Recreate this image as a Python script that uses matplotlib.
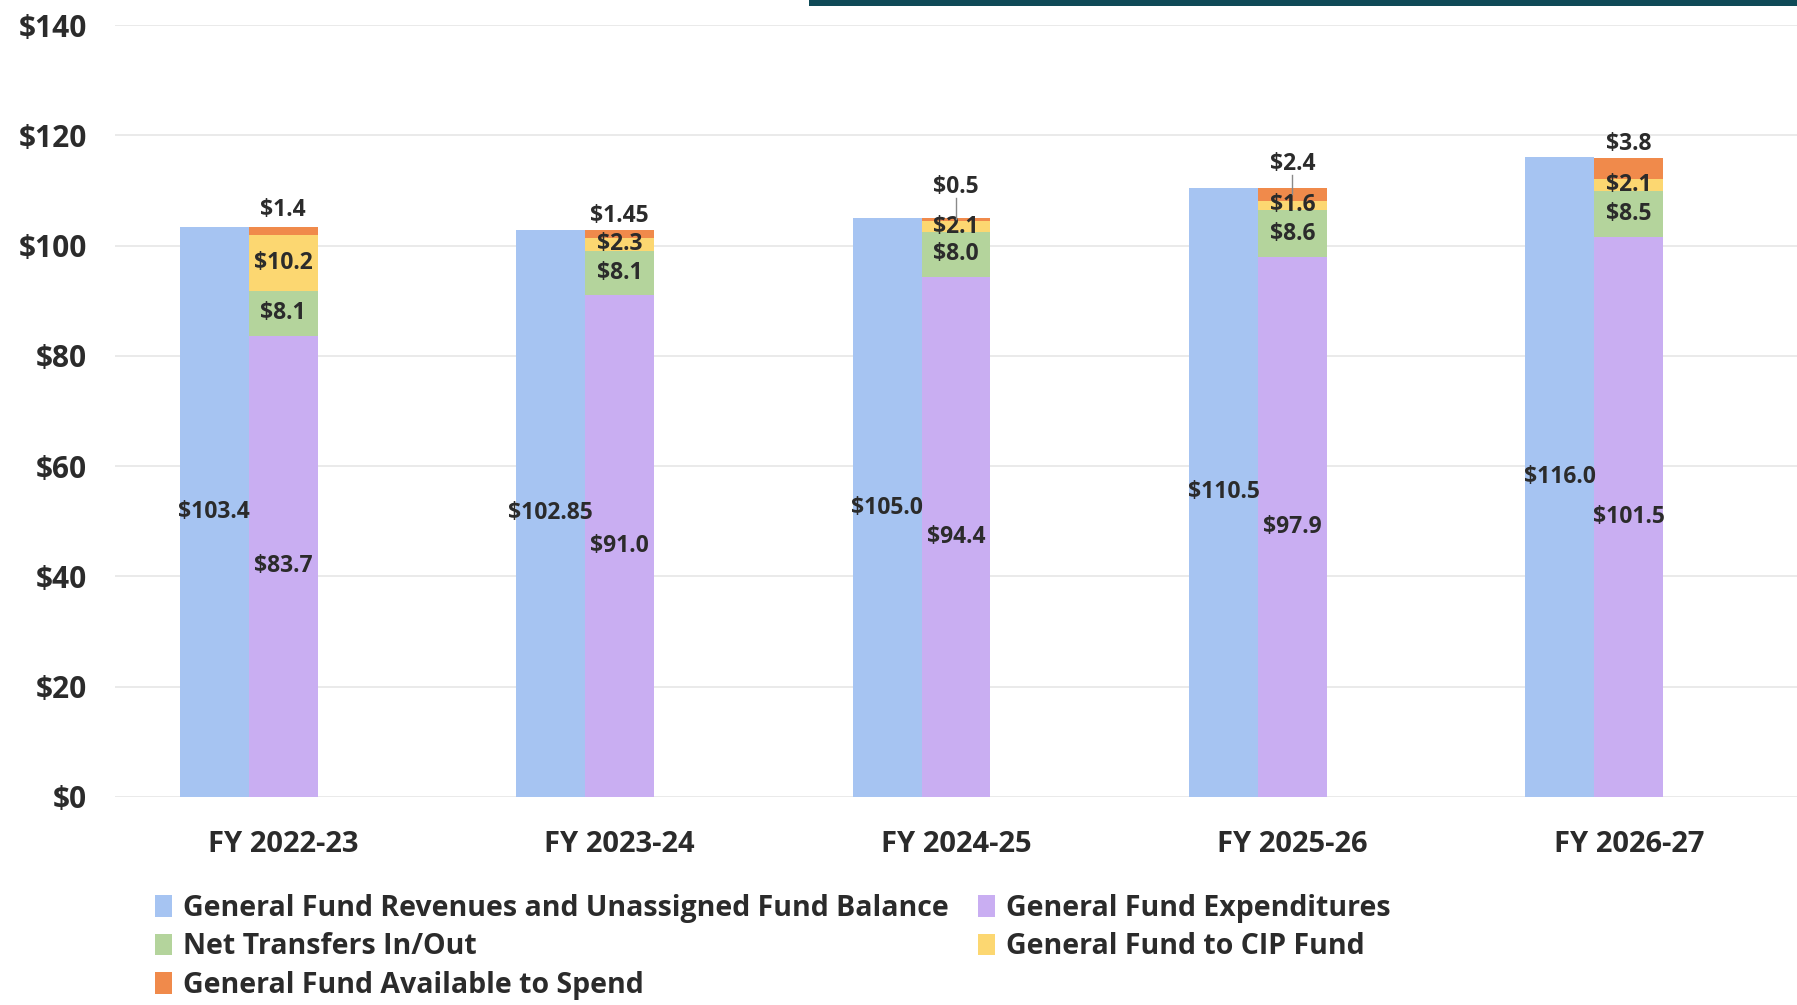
"""General Fund revenues vs. uses, FY 2022-23 to FY 2026-27 ($ millions)."""
import matplotlib
matplotlib.use('Agg')
import matplotlib.pyplot as plt
import numpy as np

years = ['FY 2022-23', 'FY 2023-24', 'FY 2024-25', 'FY 2025-26', 'FY 2026-27']
revenues = [103.4, 102.85, 105.0, 110.5, 116.0]
expenditures = [83.7, 91.0, 94.4, 97.9, 101.5]
net_transfers = [8.1, 8.1, 8.0, 8.6, 8.5]
to_cip = [10.2, 2.3, 2.1, 1.6, 2.1]
available = [1.4, 1.45, 0.5, 2.4, 3.8]

rev_labels = ['$103.4', '$102.85', '$105.0', '$110.5', '$116.0']
avail_labels = ['$1.4', '$1.45', '$0.5', '$2.4', '$3.8']

# styling
c_rev = '#a6c4f2'
c_exp = '#c9aef2'
c_net = '#b4d49c'
c_cip = '#fcd771'
c_avail = '#f08a4b'
txt = '#2b2b2b'
plt.rcParams['font.family'] = ['Open Sans', 'DejaVu Sans']
plt.rcParams['font.weight'] = 'bold'

fig = plt.figure(figsize=(17.97, 10.05), dpi=100)
ax = fig.add_axes([0.064, 0.207, 0.936, 0.768])

x = np.arange(len(years))
w = 0.205
xb = x - w
xp = x

b_rev = ax.bar(xb, revenues, w, color=c_rev, label='General Fund Revenues and Unassigned Fund Balance', zorder=2)
b_exp = ax.bar(xp, expenditures, w, color=c_exp, label='General Fund Expenditures', zorder=2)
bottom = np.array(expenditures)
b_net = ax.bar(xp, net_transfers, w, bottom=bottom, color=c_net, label='Net Transfers In/Out', zorder=2)
bottom = bottom + np.array(net_transfers)
b_cip = ax.bar(xp, to_cip, w, bottom=bottom, color=c_cip, label='General Fund to CIP Fund', zorder=2)
bottom = bottom + np.array(to_cip)
b_av = ax.bar(xp, available, w, bottom=bottom, color=c_avail, label='General Fund Available to Spend', zorder=2)
tops = bottom + np.array(available)

lab = dict(ha='center', va='center', fontsize=16.5, color=txt, fontweight='bold', zorder=3)
for i in range(len(years)):
    ax.text(xb[i], revenues[i] / 2, rev_labels[i], **lab)
    ax.text(xp[i], expenditures[i] / 2, f'${expenditures[i]:.1f}', **lab)
    ax.text(xp[i], expenditures[i] + net_transfers[i] / 2, f'${net_transfers[i]:.1f}', **lab)
    ax.text(xp[i], expenditures[i] + net_transfers[i] + to_cip[i] / 2, f'${to_cip[i]:.1f}', **lab)

# labels for the available-to-spend slice sit above the stack; two use leader lines
lift = [3.0, 2.5, 5.6, 4.4, 2.6]
leader = [False, False, True, True, False]
for i in range(len(years)):
    ly = tops[i] + lift[i]
    ax.text(xp[i], ly, avail_labels[i], **lab)
    if leader[i]:
        ax.plot([xp[i], xp[i]], [tops[i] - available[i] / 2, ly - 2.0],
                color='#8a8a8a', lw=1, zorder=3)

ax.set_ylim(0, 140)
ax.set_xlim(-0.5, 4.5)
ax.set_yticks(range(0, 141, 20))
ax.set_yticklabels([f'${v}' for v in range(0, 141, 20)])
ax.set_xticks(x)
ax.set_xticklabels(years)
ax.tick_params(axis='y', length=0, labelsize=21.5, labelcolor=txt, pad=20)
ax.tick_params(axis='x', length=0, labelsize=21, labelcolor=txt, pad=24)
ax.grid(axis='y', color='#e6e6e6', lw=1.2, zorder=0)
for s in ax.spines.values():
    s.set_visible(False)

handles = [b_rev, b_net, b_av, b_exp, b_cip]
leg = fig.legend(handles, [h.get_label() for h in handles], ncol=2,
                 loc='upper left', bbox_to_anchor=(0.072, 0.136), frameon=False,
                 fontsize=20.5, handlelength=0.6, handleheight=0.8, handletextpad=0.4,
                 columnspacing=1.0, labelspacing=0.33)
for t in leg.get_texts():
    t.set_color(txt)

# slide header band at the top edge
fig.add_artist(plt.Rectangle((0.45, 0.994), 0.55, 0.006, transform=fig.transFigure,
                             color='#0f4a57', lw=0))

fig.savefig('out.png', dpi=100)
